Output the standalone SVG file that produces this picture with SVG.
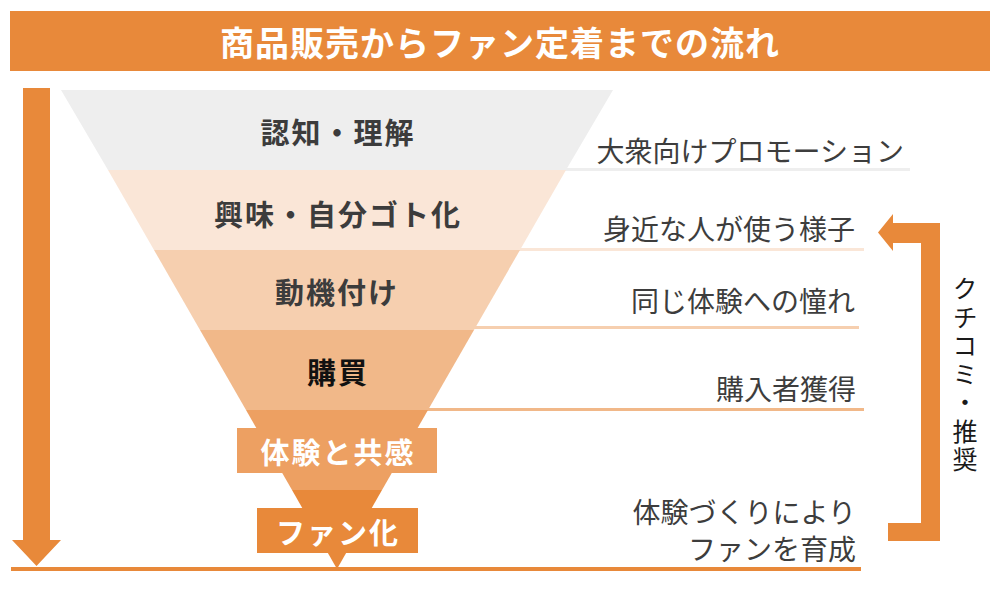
<svg xmlns="http://www.w3.org/2000/svg" width="1000" height="600" viewBox="0 0 1000 600">
  <style>
    .cjk { font-family: "Noto Sans CJK JP", "Noto Sans", sans-serif; }
    .stage { font-size: 29px; font-weight: 700; fill: #3c3c3c; text-anchor: middle; dominant-baseline: central; letter-spacing: 2px; }
    .note { font-size: 28px; font-weight: 400; fill: #3d3d3d; text-anchor: end; dominant-baseline: central; }
    .orange { fill: #E8893A; }
  </style>
  <rect width="1000" height="600" fill="#ffffff"/>

  <g id="title">
    <rect x="10" y="11" width="980" height="60" class="orange"/>
    <text x="500" y="41" class="cjk" font-size="34" font-weight="700" fill="#ffffff" text-anchor="middle" dominant-baseline="central" letter-spacing="1">商品販売からファン定着までの流れ</text>
  </g>

  <g id="connectors">
    <rect x="560" y="168" width="350" height="3" fill="#EEEEEE"/>
    <rect x="518" y="248" width="346" height="3" fill="#FAE6D7"/>
    <rect x="472" y="326" width="387" height="3" fill="#F6CFAF"/>
    <rect x="426" y="408" width="438" height="3" fill="#F1B889"/>
    <rect x="11" y="567" width="850" height="4" class="orange"/>
    <polygon points="23,88 50,88 50,540 61,540 36.5,566 12,540 23,540" class="orange"/>
    <polygon points="888,523 921,523 921,243 893,243 893,251 878,232.5 893,214 893,223 940,223 940,541 888,541" class="orange"/>
  </g>

  <g id="stage-awareness">
    <polygon points="61,90 613,90 566,170 108,170" fill="#EEEEEE"/>
    <text x="338" y="131" class="cjk stage">認知・理解</text>
  </g>
  <g id="stage-interest">
    <polygon points="108,170 566,170 520,250 154,250" fill="#FAE6D7"/>
    <text x="338" y="213" class="cjk stage">興味・自分ゴト化</text>
  </g>
  <g id="stage-motivation">
    <polygon points="154,250 520,250 474,330 200,330" fill="#F6CFAF"/>
    <text x="337" y="291" class="cjk stage">動機付け</text>
  </g>
  <g id="stage-purchase">
    <polygon points="200,330 474,330 428,410 246,410" fill="#F1B889"/>
    <text x="338" y="371" class="cjk stage" style="fill:#111111">購買</text>
  </g>
  <g id="stage-experience">
    <polygon points="246,410 428,410 382,490 292,490" fill="#EDA062"/>
    <rect x="237" y="428" width="200" height="45" fill="#EDA062"/>
    <text x="338" y="451" class="cjk stage" style="fill:#ffffff">体験と共感</text>
  </g>
  <g id="stage-fan">
    <polygon points="292,490 382,490 337,569" class="orange"/>
    <rect x="257" y="508" width="161" height="45" class="orange"/>
    <text x="338" y="531" class="cjk stage" style="fill:#ffffff">ファン化</text>
  </g>

  <g id="note-promotion"><text x="904" y="150" class="cjk note">大衆向けプロモーション</text></g>
  <g id="note-nearby"><text x="855" y="228" class="cjk note">身近な人が使う様子</text></g>
  <g id="note-longing"><text x="855" y="300" class="cjk note">同じ体験への憧れ</text></g>
  <g id="note-buyers"><text x="856" y="388" class="cjk note">購入者獲得</text></g>
  <g id="note-fans">
    <text x="856" y="511" class="cjk note">体験づくりにより</text>
    <text x="856" y="548" class="cjk note">ファンを育成</text>
  </g>

  <g id="label-wom">
    <text x="965" y="276" class="cjk" font-size="25" fill="#1a1a1a" letter-spacing="3.5" style="writing-mode: vertical-rl;" writing-mode="tb">クチコミ・推奨</text>
  </g>
</svg>
